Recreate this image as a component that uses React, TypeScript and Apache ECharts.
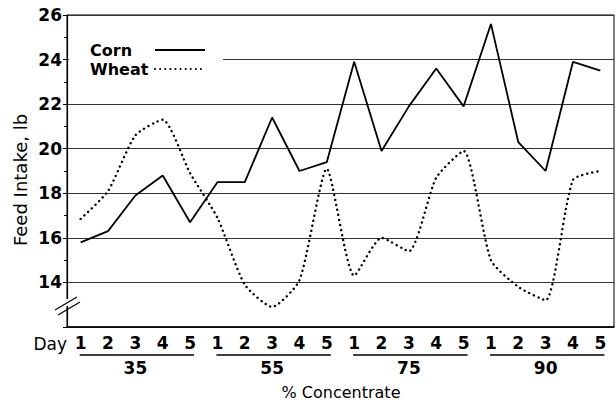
import React, { useEffect, useRef } from 'react';
import * as echarts from 'echarts';

const concentrations = ['35', '55', '75', '90'];
const days = ['1', '2', '3', '4', '5'];
const corn = [15.8, 16.3, 17.9, 18.8, 16.7, 18.5, 18.5, 21.4, 19.0, 19.4, 23.9, 19.9, 21.9, 23.6, 21.9, 25.6, 20.3, 19.0, 23.9, 23.5];
const wheat = [16.85, 18.1, 20.6, 21.3, 18.9, 16.9, 13.9, 12.9, 14.1, 19.1, 14.3, 16.0, 15.4, 18.7, 19.9, 15.0, 13.8, 13.2, 18.6, 19.0];
const yMin = 12;
const yMax = 26;
const yStep = 2;

const categories = concentrations.flatMap((c) => days.map((d) => `${c}-${d}`));

const FONT = 'DejaVu Sans';

export default function App() {
  const ref = useRef<HTMLDivElement>(null);
  useEffect(() => {
    const chart = echarts.init(ref.current!, null, { renderer: 'svg' });
    chart.setOption({
      animation: false,
      backgroundColor: '#fff',
      grid: { left: 67, top: 15, right: 2, bottom: 75, show: true, borderColor: '#000', borderWidth: 1 },
      legend: {
        data: ['Corn', 'Wheat'],
        orient: 'vertical',
        left: 69,
        top: 38,
        align: 'right',
        itemWidth: 50,
        itemHeight: 14,
        itemGap: 3,
        padding: [4, 17, 4, 21],
        backgroundColor: '#fff',
        itemStyle: { opacity: 0 },
        formatter: (n: string) => `{t|${n}}`,
        textStyle: {
          fontFamily: FONT,
          fontWeight: 'bold',
          fontSize: 16,
          color: '#000',
          rich: { t: { width: 60, align: 'left', fontFamily: FONT, fontWeight: 'bold', fontSize: 16, color: '#000', lineHeight: 18 } },
        },
      },
      xAxis: [
        {
          type: 'category',
          data: categories,
          boundaryGap: true,
          position: 'bottom',
          axisLine: { lineStyle: { color: '#000', width: 1.5 } },
          axisTick: { inside: true, length: 7, alignWithLabel: true, lineStyle: { color: '#000' } },
          axisLabel: {
            formatter: (v: string) => v.split('-')[1],
            interval: 0,
            fontFamily: FONT,
            fontWeight: 'bold',
            fontSize: 17,
            color: '#000',
            margin: 7,
          },
          splitLine: { show: false },
        },
        {
          type: 'category',
          data: concentrations,
          position: 'bottom',
          offset: 24,
          gridIndex: 0,
          axisLine: { show: false },
          axisTick: { show: false },
          axisLabel: { fontFamily: FONT, fontWeight: 'bold', fontSize: 17, color: '#000', margin: 8 },
          splitLine: { show: false },
        },
      ],
      yAxis: {
        type: 'value',
        min: yMin,
        max: yMax,
        interval: yStep,
        axisLine: { show: true, lineStyle: { color: '#000', width: 1.2 } },
        axisTick: { show: true, length: 4, lineStyle: { color: '#000' } },
        minorTick: { show: true, splitNumber: 2, length: 3, lineStyle: { color: '#000' } },
        axisLabel: {
          formatter: (v: number) => (v === yMin ? '' : String(v)),
          fontFamily: FONT,
          fontWeight: 'bold',
          fontSize: 17,
          color: '#000',
          margin: 5,
        },
        splitLine: { show: true, lineStyle: { color: '#333', width: 1 } },
      },
      series: [
        {
          name: 'Corn',
          type: 'line',
          data: corn,
          symbol: 'none',
          lineStyle: { color: '#000', width: 1.8 },
          itemStyle: { color: '#000' },
        },
        {
          name: 'Wheat',
          type: 'line',
          data: wheat,
          symbol: 'none',
          smooth: 0.2,
          lineStyle: { color: '#000', width: 2.4, type: [0.1, 5], cap: 'round' },
          itemStyle: { color: '#000' },
        },
      ],
    });

    const underlines = concentrations.map((c) => {
      const i1 = categories.indexOf(`${c}-${days[0]}`);
      const i2 = categories.indexOf(`${c}-${days[days.length - 1]}`);
      const x1 = chart.convertToPixel({ xAxisIndex: 0 }, i1) as number;
      const x2 = chart.convertToPixel({ xAxisIndex: 0 }, i2) as number;
      return {
        type: 'line',
        shape: { x1: x1 - 1, y1: 355, x2: x2 + 4, y2: 355 },
        style: { stroke: '#000', lineWidth: 1.5 },
      };
    });

    chart.setOption({
      graphic: [
        ...underlines,
        {
          type: 'text',
          x: 20,
          y: 180,
          rotation: Math.PI / 2,
          style: {
            text: 'Feed Intake, lb',
            font: `18px "${FONT}"`,
            fill: '#000',
            align: 'center',
            verticalAlign: 'middle',
            textAlign: 'center',
            textVerticalAlign: 'middle',
          },
        },
        {
          type: 'text',
          x: 67,
          y: 344,
          style: {
            text: 'Day',
            font: `17px "${FONT}"`,
            fill: '#000',
            align: 'right',
            verticalAlign: 'middle',
            textAlign: 'right',
            textVerticalAlign: 'middle',
          },
        },
        {
          type: 'text',
          x: 341,
          y: 392,
          style: {
            text: '% Concentrate',
            font: `16px "${FONT}"`,
            fill: '#000',
            align: 'center',
            verticalAlign: 'middle',
            textAlign: 'center',
            textVerticalAlign: 'middle',
          },
        },
        { type: 'rect', z: 100, shape: { x: 62, y: 299, width: 10, height: 7 }, style: { fill: '#fff' } },
        { type: 'line', z: 101, shape: { x1: 55, y1: 310, x2: 77, y2: 297 }, style: { stroke: '#000', lineWidth: 1.2 } },
        { type: 'line', z: 101, shape: { x1: 58, y1: 315, x2: 80, y2: 302 }, style: { stroke: '#000', lineWidth: 1.2 } },
      ],
    });

    return () => chart.dispose();
  }, []);
  return (
    <div
      ref={ref}
      style={{ position: 'absolute', left: 0, top: 0, width: 616, height: 402, background: '#fff' }}
    />
  );
}
